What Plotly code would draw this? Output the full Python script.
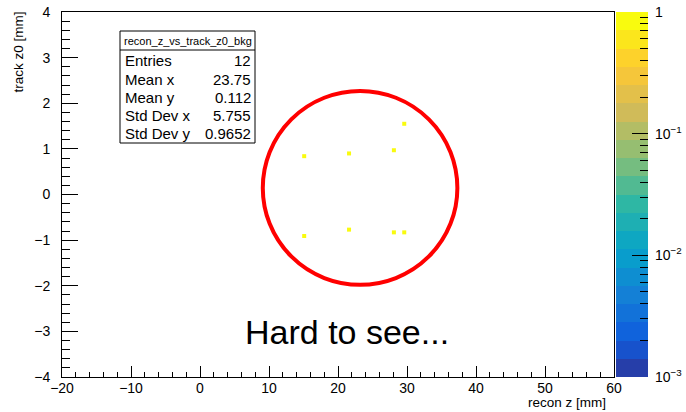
import numpy as np
import plotly.graph_objects as go

# ---- data ----
recon_z = [15.1, 21.6, 28.1, 29.6, 15.1, 21.6, 28.1, 29.6]
track_z0 = [0.84, 0.90, 0.97, 1.55, -0.91, -0.77, -0.83, -0.83]
bin_content = [1, 1, 1, 1, 1, 1, 1, 1]

x_ticks = [-20, -10, 0, 10, 20, 30, 40, 50, 60]
y_ticks = [-4, -3, -2, -1, 0, 1, 2, 3, 4]
z_ticks = [0.001, 0.01, 0.1, 1]
z_ticktext = ["10<sup>\u22123</sup>", "10<sup>\u22122</sup>", "10<sup>\u22121</sup>", "1"]

stats_title = "recon_z_vs_track_z0_bkg"
stat_labels = ["Entries", "Mean x", "Mean y", "Std Dev x", "Std Dev y"]
stat_values = ["12", "23.75", "0.112", "5.755", "0.9652"]

# ---- kBird palette ----
stops = [0.0, 0.125, 0.25, 0.375, 0.5, 0.625, 0.75, 0.875, 1.0]
red = [0.2082, 0.0592, 0.0780, 0.0232, 0.1802, 0.5301, 0.8186, 0.9956, 0.9764]
green = [0.1664, 0.3599, 0.5041, 0.6419, 0.7178, 0.7492, 0.7328, 0.7862, 0.9832]
blue = [0.5293, 0.8684, 0.8385, 0.7914, 0.6425, 0.4662, 0.3499, 0.1968, 0.0539]

def bird(f):
    r = np.interp(f, stops, red)
    g = np.interp(f, stops, green)
    b = np.interp(f, stops, blue)
    return "rgb(%d,%d,%d)" % (round(r * 255), round(g * 255), round(b * 255))

nband = 20
colorscale = []
for i in range(nband):
    c = bird(min((i + 0.99) / nband, 1.0))
    colorscale.append([i / nband, c])
    colorscale.append([(i + 1) / nband, c])

zmin_log, zmax_log = -3.0, 0.0
band_edges = 10 ** np.linspace(zmin_log, zmax_log, nband + 1)
band_centers = np.linspace(zmin_log, zmax_log, nband + 1)[:-1] + (zmax_log - zmin_log) / nband / 2

FONT = "Liberation Sans, Arial, sans-serif"

fig = go.Figure()

fig.add_trace(go.Scatter(
    x=recon_z, y=track_z0, mode="markers",
    marker=dict(symbol="square", size=4,
                color=np.log10(bin_content), coloraxis="coloraxis",
                line=dict(width=0)),
    xaxis="x", yaxis="y", showlegend=False, hoverinfo="skip"))

fig.add_trace(go.Heatmap(
    x=[0, 1], y=band_edges, z=[[v] for v in band_centers],
    coloraxis="coloraxis", xaxis="x2", yaxis="y2",
    showscale=False, hoverinfo="skip"))

W, H = 686, 412
L, R, T, B = 62, 38, 12, 35
pw = W - L - R  # 586
ph = H - T - B  # 365

def px(x):
    return (x - L) / pw

def py(y):
    return (H - B - y) / ph

main_right = px(614)

fig.update_layout(
    width=W, height=H,
    margin=dict(l=L, r=R, t=T, b=B, pad=0, autoexpand=False),
    paper_bgcolor="white", plot_bgcolor="white",
    font=dict(family=FONT, size=14, color="black"),
    coloraxis=dict(colorscale=colorscale, cmin=zmin_log, cmax=zmax_log, showscale=False),
    xaxis=dict(domain=[0, main_right], range=[-20, 60], tickvals=x_ticks,
               ticks="inside", ticklen=11, tickcolor="black",
               minor=dict(ticks="inside", ticklen=5.5, dtick=2, tickcolor="black", showgrid=False),
               showgrid=False, zeroline=False, showline=True, linecolor="black",
               linewidth=1, mirror=True, tickfont=dict(size=14), anchor="y",
               automargin=False, ticklabelstandoff=-2),
    yaxis=dict(domain=[0, 1], range=[-4, 4], tickvals=y_ticks,
               ticks="inside", ticklen=16, tickcolor="black",
               minor=dict(ticks="inside", ticklen=8, dtick=0.2, tickcolor="black", showgrid=False),
               showgrid=False, zeroline=False, showline=True, linecolor="black",
               linewidth=1, mirror=True, tickfont=dict(size=14), anchor="x",
               ticklabelstandoff=8, automargin=False),
    xaxis2=dict(domain=[px(616), 1.0], range=[0, 1], showticklabels=False,
                ticks="", showgrid=False, zeroline=False, showline=False, anchor="y2",
                automargin=False),
    yaxis2=dict(domain=[0, 1], type="log", range=[zmin_log, zmax_log], side="right",
                anchor="x2", tickvals=z_ticks, ticktext=z_ticktext,
                ticks="inside", ticklen=16, tickcolor="black",
                minor=dict(ticks="inside", ticklen=8, dtick="D1", tickcolor="black", showgrid=False),
                showgrid=False, zeroline=False, showline=False,
                tickfont=dict(size=14), ticklabelstandoff=6, automargin=False),
)

# circle highlight
fig.add_shape(type="circle", xref="x", yref="y", x0=9.1, x1=37.3, y0=-1.98, y1=2.27,
              line=dict(color="#ff0000", width=4))

# stats box
bx0, bx1, by0, by1 = px(120), px(255), py(143), py(31)
fig.add_shape(type="rect", xref="paper", yref="paper", x0=bx0, x1=bx1, y0=by0, y1=by1,
              line=dict(color="black", width=1), fillcolor="white", layer="above")
fig.add_shape(type="line", xref="paper", yref="paper", x0=bx0, x1=bx1, y0=py(50), y1=py(50),
              line=dict(color="black", width=1), layer="above")
fig.add_annotation(xref="paper", yref="paper", x=(bx0 + bx1) / 2, y=py(41), text=stats_title,
                   showarrow=False, xanchor="center", yanchor="middle",
                   font=dict(size=11, family=FONT, color="black"))
row_y = [60.5, 79, 97, 115.5, 133]
for lab, val, yy in zip(stat_labels, stat_values, row_y):
    fig.add_annotation(xref="paper", yref="paper", x=px(123), y=py(yy), text=lab,
                       showarrow=False, xanchor="left", yanchor="middle",
                       font=dict(size=15, family=FONT, color="black"))
    fig.add_annotation(xref="paper", yref="paper", x=px(253), y=py(yy), text=val,
                       showarrow=False, xanchor="right", yanchor="middle",
                       font=dict(size=15, family=FONT, color="black"))

# axis titles (ROOT style, aligned to axis end)
fig.add_annotation(xref="paper", yref="paper", x=px(608), y=py(402), text="recon z [mm]",
                   showarrow=False, xanchor="right", yanchor="middle",
                   font=dict(size=13.5, family=FONT, color="black"))
fig.add_annotation(xref="paper", yref="paper", x=px(18), y=py(9), text="track z0 [mm]",
                   showarrow=False, xanchor="center", yanchor="top", textangle=-90,
                   font=dict(size=13.5, family=FONT, color="black"))

# big comment text
fig.add_annotation(xref="paper", yref="paper", x=px(347), y=py(332), text="Hard to see...",
                   showarrow=False, xanchor="center", yanchor="middle",
                   font=dict(size=34, family=FONT, color="black"))

fig.write_html("out.html")
